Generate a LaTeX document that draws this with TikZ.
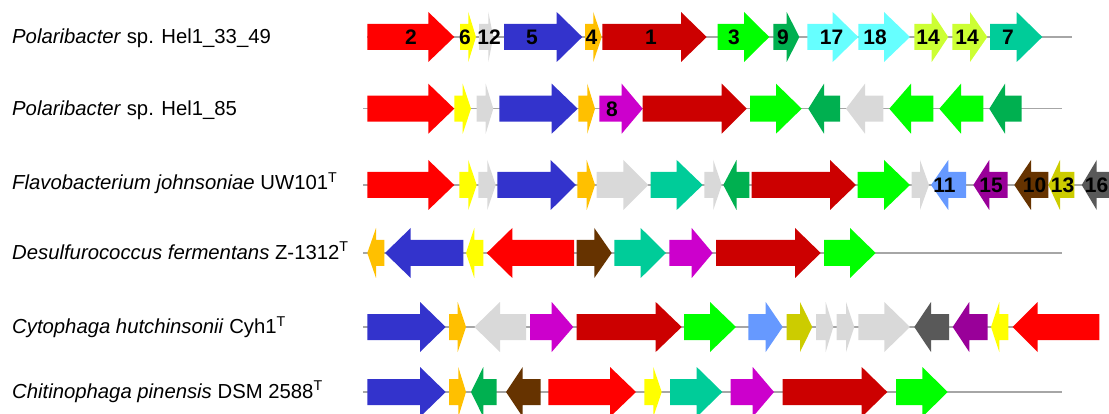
\documentclass[tikz,border=0pt]{standalone}
\usepackage{fontspec}
\setmainfont{Liberation Sans}
\definecolor{gR}{HTML}{FF0000}
\definecolor{gY}{HTML}{FFFF00}
\definecolor{gLG}{HTML}{D9D9D9}
\definecolor{gB}{HTML}{3333CC}
\definecolor{gO}{HTML}{FFC000}
\definecolor{gDR}{HTML}{CC0000}
\definecolor{gG}{HTML}{00FF00}
\definecolor{gDG}{HTML}{00B050}
\definecolor{gC}{HTML}{66FFFF}
\definecolor{gL}{HTML}{CCFF33}
\definecolor{gT}{HTML}{00CC99}
\definecolor{gM}{HTML}{CC00CC}
\definecolor{gLB}{HTML}{6699FF}
\definecolor{gP}{HTML}{990099}
\definecolor{gBr}{HTML}{663300}
\definecolor{gOl}{HTML}{CCCC00}
\definecolor{gDk}{HTML}{595959}
\definecolor{lineg}{HTML}{A6A6A6}
% tail, head base, tip, y centre, colour
\newcommand\ga[5]{\fill[#5] (#1,#4-13)--(#2,#4-13)--(#2,#4-25)--(#3,#4)--(#2,#4+25)--(#2,#4+13)--(#1,#4+13)--cycle;}
\tikzset{
  species/.style={anchor=base west,inner sep=0pt,font=\fontsize{20.3}{24}\selectfont},
  gnum/.style={inner sep=0pt,font=\fontsize{21}{22}\selectfont\bfseries},
  backbone/.style={draw=lineg,line width=1.3pt}
}
\begin{document}
\begin{tikzpicture}[x=1pt,y=-1pt]
\useasboundingbox (0,0) rectangle (1109,414);
\clip (0,0) rectangle (1109,414);
% species labels
\node[species] (s1) at (12,44) {\textit{Polaribacter} sp. Hel1\_33\_49};
\node[species] (s2) at (12,115.5) {\textit{Polaribacter} sp. Hel1\_85};
\node[species] (s3) at (12,190) {\textit{Flavobacterium johnsoniae} UW101\textsuperscript{T}};
\node[species] (s4) at (12,259.5) {\textit{Desulfurococcus fermentans} Z-1312\textsuperscript{T}};
\node[species] (s5) at (12,334) {\textit{Cytophaga hutchinsonii} Cyh1\textsuperscript{T}};
\node[species] (s6) at (12,398.5) {\textit{Chitinophaga pinensis} DSM 2588\textsuperscript{T}};
% backbones
\coordinate (b1a) at (367,37); \coordinate (b1b) at (1072,37);
\coordinate (b2a) at (363,108.7); \coordinate (b2b) at (1061.7,108.7);
\coordinate (b3a) at (363,185); \coordinate (b3b) at (1109,185);
\coordinate (b4a) at (363,253); \coordinate (b4b) at (1061.7,253);
\coordinate (b5a) at (363,327); \coordinate (b5b) at (1099,327);
\coordinate (b6a) at (363,392); \coordinate (b6b) at (1061.7,392);
\draw[backbone] (b1a) -- (b1b);
\draw[backbone] (b2a) -- (b2b);
\draw[backbone] (b3a) -- (b3b);
\draw[backbone] (b4a) -- (b4b);
\draw[backbone] (b5a) -- (b5b);
\draw[backbone] (b6a) -- (b6b);
% row 1
\ga{367.3}{428.3}{454.3}{37}{gR}
\ga{460}{468.3}{476}{37}{gY}
\ga{479}{488.3}{493.3}{37}{gLG}
\ga{504}{556.7}{582.3}{37}{gB}
\ga{585}{593.3}{601.7}{37}{gO}
\ga{602.3}{681}{706.7}{37}{gDR}
\ga{717.7}{744}{769.3}{37}{gG}
\ga{773.3}{786.7}{799.3}{37}{gDG}
\ga{807.3}{832.7}{858.3}{37}{gC}
\ga{858.3}{884}{910}{37}{gC}
\ga{914.3}{931.7}{948.3}{37}{gL}
\ga{952.3}{970}{987.3}{37}{gL}
\ga{990}{1016.7}{1042.3}{37}{gT}
\node[gnum] (n2) at (411,37.5) {2};
\node[gnum] (n6) at (465,37.5) {6};
\node[gnum] (n12) at (489,37.5) {12};
\node[gnum] (n5) at (532,37.5) {5};
\node[gnum] (n4) at (591.5,37.5) {4};
\node[gnum] (n1) at (651,37.5) {1};
\node[gnum] (n3) at (734,37.5) {3};
\node[gnum] (n9) at (783,37.5) {9};
\node[gnum] (n17) at (831.5,37.5) {17};
\node[gnum] (n18) at (875,37.5) {18};
\node[gnum] (n14a) at (928,37.5) {14};
\node[gnum] (n14b) at (967,37.5) {14};
\node[gnum] (n7) at (1008,37.5) {7};
% row 2
\ga{367.3}{428.3}{454.3}{108.7}{gR}
\ga{454.3}{462.7}{471}{108.7}{gY}
\ga{476.7}{485.7}{493.3}{108.7}{gLG}
\ga{499.3}{551.7}{577.7}{108.7}{gB}
\ga{578.3}{587.3}{595}{108.7}{gO}
\ga{599.3}{621.7}{642.7}{108.7}{gM}
\ga{642.7}{721.7}{746.7}{108.7}{gDR}
\ga{750}{776}{801.7}{108.7}{gG}
\ga{840}{824}{808.3}{108.7}{gDG}
\ga{883.3}{865}{846}{108.7}{gLG}
\ga{933.3}{911}{889.3}{108.7}{gG}
\ga{983.3}{961}{939.3}{108.7}{gG}
\ga{1021.7}{1005}{989.3}{108.7}{gDG}
\node[gnum] (n8) at (612,109) {8};
% row 3
\ga{367.3}{428.3}{454.3}{185}{gR}
\ga{459.3}{468.3}{476.7}{185}{gY}
\ga{478.3}{487.3}{495.7}{185}{gLG}
\ga{497.3}{550.7}{576}{185}{gB}
\ga{577.3}{586.7}{595}{185}{gO}
\ga{596.7}{623.3}{648.3}{185}{gLG}
\ga{650.7}{676.7}{702.7}{185}{gT}
\ga{704.3}{713.3}{721.7}{185}{gLG}
\ga{749.3}{736.5}{723.3}{185}{gDG}
\ga{751.7}{830}{856}{185}{gDR}
\ga{857.7}{884}{910}{185}{gG}
\ga{911.7}{920}{929}{185}{gLG}
\ga{966}{948.3}{931}{185}{gLB}
\ga{1007.7}{989.3}{973.3}{185}{gP}
\ga{1048.3}{1031}{1014.3}{185}{gBr}
\ga{1074.3}{1060}{1048.3}{185}{gOl}
\ga{1115}{1096.7}{1081.7}{185}{gDk}
\node[gnum] (n11) at (944.5,185.5) {11};
\node[gnum] (n15) at (991,185.5) {15};
\node[gnum] (n10) at (1034.5,185.5) {10};
\node[gnum] (n13) at (1062.5,185.5) {13};
\node[gnum] (n16) at (1096.5,185.5) {16};
% row 4
\ga{384.3}{376}{367.3}{253}{gO}
\ga{463.3}{410.7}{385}{253}{gB}
\ga{483.3}{474.3}{466}{253}{gY}
\ga{574}{512.3}{486.7}{253}{gR}
\ga{576.7}{594.3}{611.7}{253}{gBr}
\ga{614.3}{640.7}{666}{253}{gT}
\ga{669.3}{691.7}{712.7}{253}{gM}
\ga{716}{795}{820.7}{253}{gDR}
\ga{824}{850}{875.7}{253}{gG}
% row 5
\ga{367.3}{420}{445.7}{327}{gB}
\ga{449}{457.7}{466}{327}{gO}
\ga{526}{500}{474.3}{327}{gLG}
\ga{530}{551.7}{573.3}{327}{gM}
\ga{576.7}{655.7}{681.7}{327}{gDR}
\ga{684}{710}{736}{327}{gG}
\ga{748.3}{765.7}{782.7}{327}{gLB}
\ga{786.7}{800}{812.3}{327}{gOl}
\ga{816}{825.7}{833.3}{327}{gLG}
\ga{836.7}{846}{854.3}{327}{gLG}
\ga{858.3}{884.3}{910}{327}{gLG}
\ga{949}{931}{914.3}{327}{gDk}
\ga{987.7}{969.3}{952.7}{327}{gP}
\ga{1008.3}{999.3}{991}{327}{gY}
\ga{1099.3}{1037.7}{1012.7}{327}{gR}
% row 6
\ga{367.3}{420}{445.7}{392}{gB}
\ga{449}{458.3}{466}{392}{gO}
\ga{496.7}{483.3}{471}{392}{gDG}
\ga{540.7}{522.7}{506}{392}{gBr}
\ga{548.3}{610}{636}{392}{gR}
\ga{644.3}{653.3}{661.7}{392}{gY}
\ga{670}{696.7}{722.3}{392}{gT}
\ga{730.7}{752.7}{774}{392}{gM}
\ga{782.7}{861.7}{887.3}{392}{gDR}
\ga{896}{922.3}{947.7}{392}{gG}
\end{tikzpicture}
\end{document}
